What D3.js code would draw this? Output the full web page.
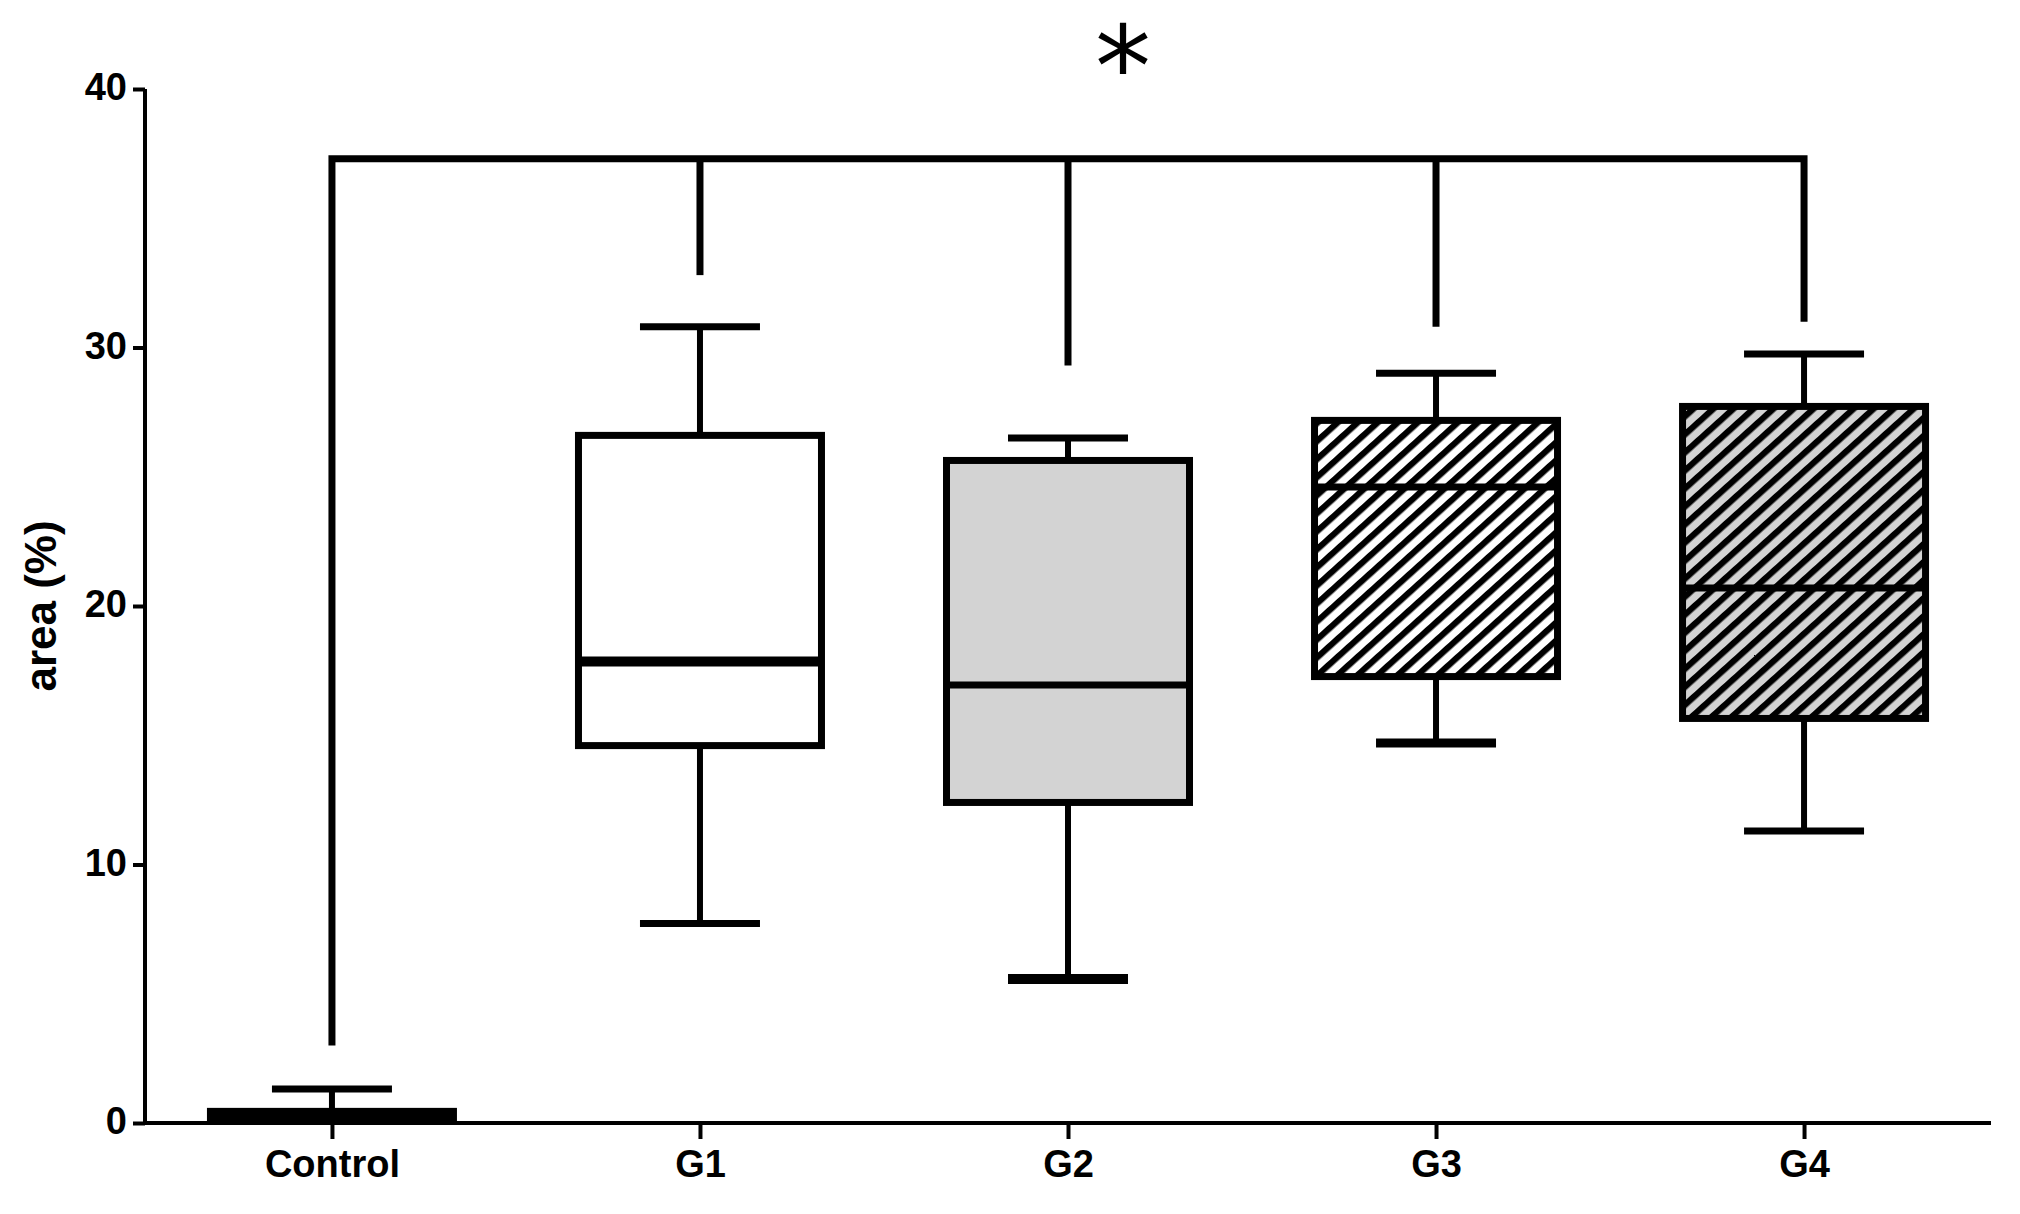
<!DOCTYPE html>
<html>
<head>
<meta charset="utf-8">
<script src="https://cdn.jsdelivr.net/npm/d3@7"></script>
<style>
  html, body { margin: 0; padding: 0; background: #fff; }
  svg { display: block; }
</style>
</head>
<body>
<script>
// ---- data ----
const categories = ["Control", "G1", "G2", "G3", "G4"];
const whiskerLow  = [0.0, 7.72, 5.57, 14.7, 11.3];
const q1          = [0.1, 14.6, 12.4, 17.27, 15.65];
const medians     = [0.3, 17.85, 16.94, 24.6, 20.7];
const q3          = [0.45, 26.6, 25.63, 27.18, 27.72];
const whiskerHigh = [1.32, 30.8, 26.5, 29.0, 29.75];
const bracketEnds = [3.0, 32.8, 29.3, 30.8, 31.0];
const bracketLevel = 37.3;
const significance = "*";
const yTicks = [0, 10, 20, 30, 40];
const yTitle = "area (%)";

// ---- styles (kept apart from the data) ----
const fills = ["#ffffff", "#ffffff", "#d3d3d3", "url(#hatchWhite)", "url(#hatchGrey)"];
const medianStroke = [7, 10, 7, 7, 7];
const lowCapStroke = [7, 7, 10, 9, 7];

// ---- layout ----
const W = 2020, H = 1214;
const svg = d3.select("body").append("svg").attr("width", W).attr("height", H);

const x = d3.scalePoint().domain(categories).range([145, 1991]).padding(0.508);
const y = d3.scaleLinear().domain([0, 40]).range([1123, 89]);

// patterns
const defs = svg.append("defs");
const period = 13.4, stripe = 6.2;
function hatch(id, bg) {
  const p = defs.append("pattern").attr("id", id)
    .attr("patternUnits", "userSpaceOnUse")
    .attr("width", period).attr("height", period)
    .attr("patternTransform", "rotate(48)");
  p.append("rect").attr("width", period).attr("height", period).attr("fill", bg);
  p.append("rect").attr("x", 0).attr("width", stripe).attr("height", period).attr("fill", "#000");
}
hatch("hatchWhite", "#ffffff");
hatch("hatchGrey", "#d3d3d3");

const font = "'Liberation Sans', Arial, sans-serif";

// axes
const yAxis = svg.append("g").attr("transform", "translate(145,0)")
  .call(d3.axisLeft(y).tickValues(yTicks).tickSize(12).tickSizeOuter(0).tickPadding(6));
const xAxis = svg.append("g").attr("transform", `translate(0,${y(0)})`)
  .call(d3.axisBottom(x).tickSize(16).tickSizeOuter(0).tickPadding(8));
xAxis.select(".domain").attr("d", `M${x.range()[0]},0H${x.range()[1]}`);
yAxis.select(".domain").attr("d", `M0,${y(40)}V${y(0) + 2}`);

[yAxis, xAxis].forEach(g => {
  g.selectAll(".domain, .tick line").attr("stroke", "#000").attr("stroke-width", 4);
  g.selectAll("text").attr("fill", "#000").style("font-family", font)
    .style("font-weight", "bold").style("font-size", "38px");
});
yAxis.selectAll("text").attr("dy", "0.28em");
xAxis.selectAll("text").attr("dy", "0.78em");

// y title
svg.append("text")
  .attr("transform", `translate(56,${(y(0) + y(40)) / 2})rotate(-90)`)
  .attr("text-anchor", "middle")
  .style("font-family", font).style("font-weight", "bold").style("font-size", "44px")
  .text(yTitle);

// data rows
const rows = categories.map((c, i) => ({
  c, lo: whiskerLow[i], q1: q1[i], med: medians[i], q3: q3[i], hi: whiskerHigh[i],
  br: bracketEnds[i], fill: fills[i], mw: medianStroke[i], lw: lowCapStroke[i]
}));

const boxW = 243, capW = 120;

// bracket
const plot = svg.append("g");
const first = rows[0], last = rows[rows.length - 1];
plot.append("path")
  .attr("d", `M${x(first.c)},${y(first.br)}V${y(bracketLevel)}H${x(last.c)}V${y(last.br)}`)
  .attr("fill", "none").attr("stroke", "#000").attr("stroke-width", 7)
  .attr("stroke-linejoin", "miter");
plot.selectAll(".drop").data(rows.slice(1, -1)).join("line")
  .attr("x1", d => x(d.c)).attr("x2", d => x(d.c))
  .attr("y1", y(bracketLevel)).attr("y2", d => y(d.br))
  .attr("stroke", "#000").attr("stroke-width", 7);

svg.append("text")
  .attr("x", (x(categories[2]) + x(categories[3])) / 2 - 129)
  .attr("y", 106)
  .attr("text-anchor", "middle")
  .style("font-family", "'DejaVu Sans', sans-serif").style("font-size", "112px")
  .text(significance);

// whiskers
const g = plot.selectAll(".box").data(rows).join("g");
g.append("line")
  .attr("x1", d => x(d.c)).attr("x2", d => x(d.c))
  .attr("y1", d => y(d.hi)).attr("y2", d => y(d.lo))
  .attr("stroke", "#000").attr("stroke-width", 6);
g.append("line")
  .attr("x1", d => x(d.c) - capW / 2).attr("x2", d => x(d.c) + capW / 2)
  .attr("y1", d => y(d.hi)).attr("y2", d => y(d.hi))
  .attr("stroke", "#000").attr("stroke-width", 7);
g.filter(d => d.lo > 0).append("line")
  .attr("x1", d => x(d.c) - capW / 2).attr("x2", d => x(d.c) + capW / 2)
  .attr("y1", d => y(d.lo)).attr("y2", d => y(d.lo))
  .attr("stroke", "#000").attr("stroke-width", d => d.lw);
// boxes
g.append("rect")
  .attr("x", d => x(d.c) - boxW / 2).attr("width", boxW)
  .attr("y", d => y(d.q3)).attr("height", d => y(d.q1) - y(d.q3))
  .attr("fill", d => d.fill).attr("stroke", "#000").attr("stroke-width", 7);
g.append("line")
  .attr("x1", d => x(d.c) - boxW / 2).attr("x2", d => x(d.c) + boxW / 2)
  .attr("y1", d => y(d.med)).attr("y2", d => y(d.med))
  .attr("stroke", "#000").attr("stroke-width", d => d.mw);
</script>
</body>
</html>
